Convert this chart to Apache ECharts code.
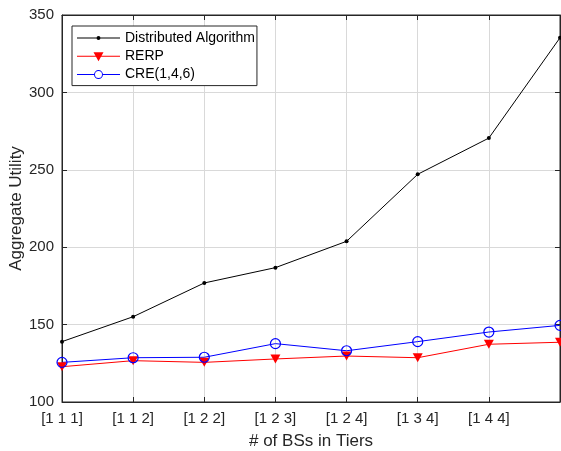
<!DOCTYPE html>
<html><head><meta charset="utf-8">
<script src="https://cdn.jsdelivr.net/npm/echarts@6/dist/echarts.min.js"></script>
<style>html,body{margin:0;padding:0;background:#fff}#c{width:561px;height:451px}</style>
</head><body><div id="c"></div>
<script>
var categories = ['[1 1 1]','[1 1 2]','[1 2 2]','[1 2 3]','[1 2 4]','[1 3 4]','[1 4 4]',''];
var distributed = [139.0, 155.1, 176.9, 186.8, 203.8, 247.1, 270.5, 335.3];
var rerp = [122.8, 126.7, 125.6, 127.8, 129.7, 128.6, 137.3, 138.6];
var cre = [125.6, 128.6, 128.9, 137.7, 133.1, 139.0, 145.2, 149.5];
var yTicks = {min: 100, max: 350, interval: 50};

var FONT = '"Liberation Sans", Arial, sans-serif';
var AX = '#262626';
var chart = echarts.init(document.getElementById('c'), null, {renderer: 'canvas'});

var iconBlack = 'path://M0,0M43,12M0,5.5L43,5.5L43,6.5L0,6.5ZM19.5,6A2,2,0,1,1,23.5,6A2,2,0,1,1,19.5,6Z';
var iconRed = 'path://M0,0M43,12M0,5.5L43,5.5L43,6.5L0,6.5ZM16.5,2L26.5,2L21.5,11Z';
var iconBlue = 'path://M0,0M43,12M0,5.5L17,5.5L17,6.5L0,6.5ZM26,5.5L43,5.5L43,6.5L26,6.5Z' +
  'M17,6A4.5,4.5,0,1,1,26,6A4.5,4.5,0,1,1,17,6Z' +
  'M18,6A3.5,3.5,0,1,0,25,6A3.5,3.5,0,1,0,18,6Z';

chart.setOption({
  animation: false,
  backgroundColor: '#fff',
  grid: {left: 62, top: 15, width: 498, height: 387, show: true, borderColor: AX, borderWidth: 1,
         containLabel: false, outerBoundsMode: 'none'},
  legend: {
    left: 72, top: 26, orient: 'vertical',
    itemWidth: 43, itemHeight: 12, itemGap: 2.3,
    padding: [4, 2, 3, 5],
    borderColor: AX, borderWidth: 1, backgroundColor: '#fff',
    textStyle: {fontFamily: FONT, fontSize: 14, color: '#000', lineHeight: 16},
    data: [
      {name: 'Distributed Algorithm', icon: iconBlack, itemStyle: {color: '#000', borderWidth: 0}},
      {name: 'RERP', icon: iconRed, itemStyle: {color: '#ff0000', borderWidth: 0}},
      {name: 'CRE(1,4,6)', icon: iconBlue, itemStyle: {color: '#0000ff', borderWidth: 0}}
    ]
  },
  xAxis: [{
    type: 'category', data: categories, boundaryGap: false,
    name: '# of BSs in Tiers', nameLocation: 'middle', nameGap: 31, nameMoveOverlap: false,
    nameTextStyle: {fontFamily: FONT, fontSize: 17, color: AX},
    axisLine: {show: true, lineStyle: {color: AX, width: 1}},
    axisTick: {show: true, inside: true, length: 5, alignWithLabel: true, lineStyle: {color: AX}},
    axisLabel: {fontFamily: FONT, fontSize: 15, color: AX, margin: 9, interval: 0},
    splitLine: {show: true, lineStyle: {color: '#d9d9d9', width: 1}}
  }, {
    type: 'category', data: categories, boundaryGap: false, position: 'top',
    axisLine: {show: true, lineStyle: {color: AX}},
    axisTick: {show: true, inside: true, length: 5, lineStyle: {color: AX}},
    axisLabel: {show: false}, splitLine: {show: false}
  }],
  yAxis: [{
    type: 'value', min: yTicks.min, max: yTicks.max, interval: yTicks.interval,
    name: 'Aggregate Utility', nameLocation: 'middle', nameGap: 37, nameMoveOverlap: false,
    nameTextStyle: {fontFamily: FONT, fontSize: 17, color: AX},
    axisLine: {show: true, lineStyle: {color: AX, width: 1}},
    axisTick: {show: true, inside: true, length: 5, lineStyle: {color: AX}},
    axisLabel: {fontFamily: FONT, fontSize: 15, color: AX, margin: 8},
    splitLine: {show: true, lineStyle: {color: '#d9d9d9', width: 1}}
  }, {
    type: 'value', min: yTicks.min, max: yTicks.max, interval: yTicks.interval, position: 'right',
    axisLine: {show: true, lineStyle: {color: AX}},
    axisTick: {show: true, inside: true, length: 5, lineStyle: {color: AX}},
    axisLabel: {show: false}, splitLine: {show: false}
  }],
  series: [{
    name: 'Distributed Algorithm', type: 'line', data: distributed,
    symbol: 'circle', symbolSize: 4,
    lineStyle: {color: '#000', width: 1}, itemStyle: {color: '#000'}
  }, {
    name: 'RERP', type: 'line', data: rerp,
    symbol: 'triangle', symbolRotate: 180, symbolSize: [10, 9],
    lineStyle: {color: '#ff0000', width: 1}, itemStyle: {color: '#ff0000'}
  }, {
    name: 'CRE(1,4,6)', type: 'line', data: cre,
    symbol: 'circle', symbolSize: 10,
    lineStyle: {color: '#0000ff', width: 1},
    itemStyle: {color: 'rgba(0,0,0,0)', borderColor: '#0000ff', borderWidth: 1.2}
  }]
});
</script></body></html>
